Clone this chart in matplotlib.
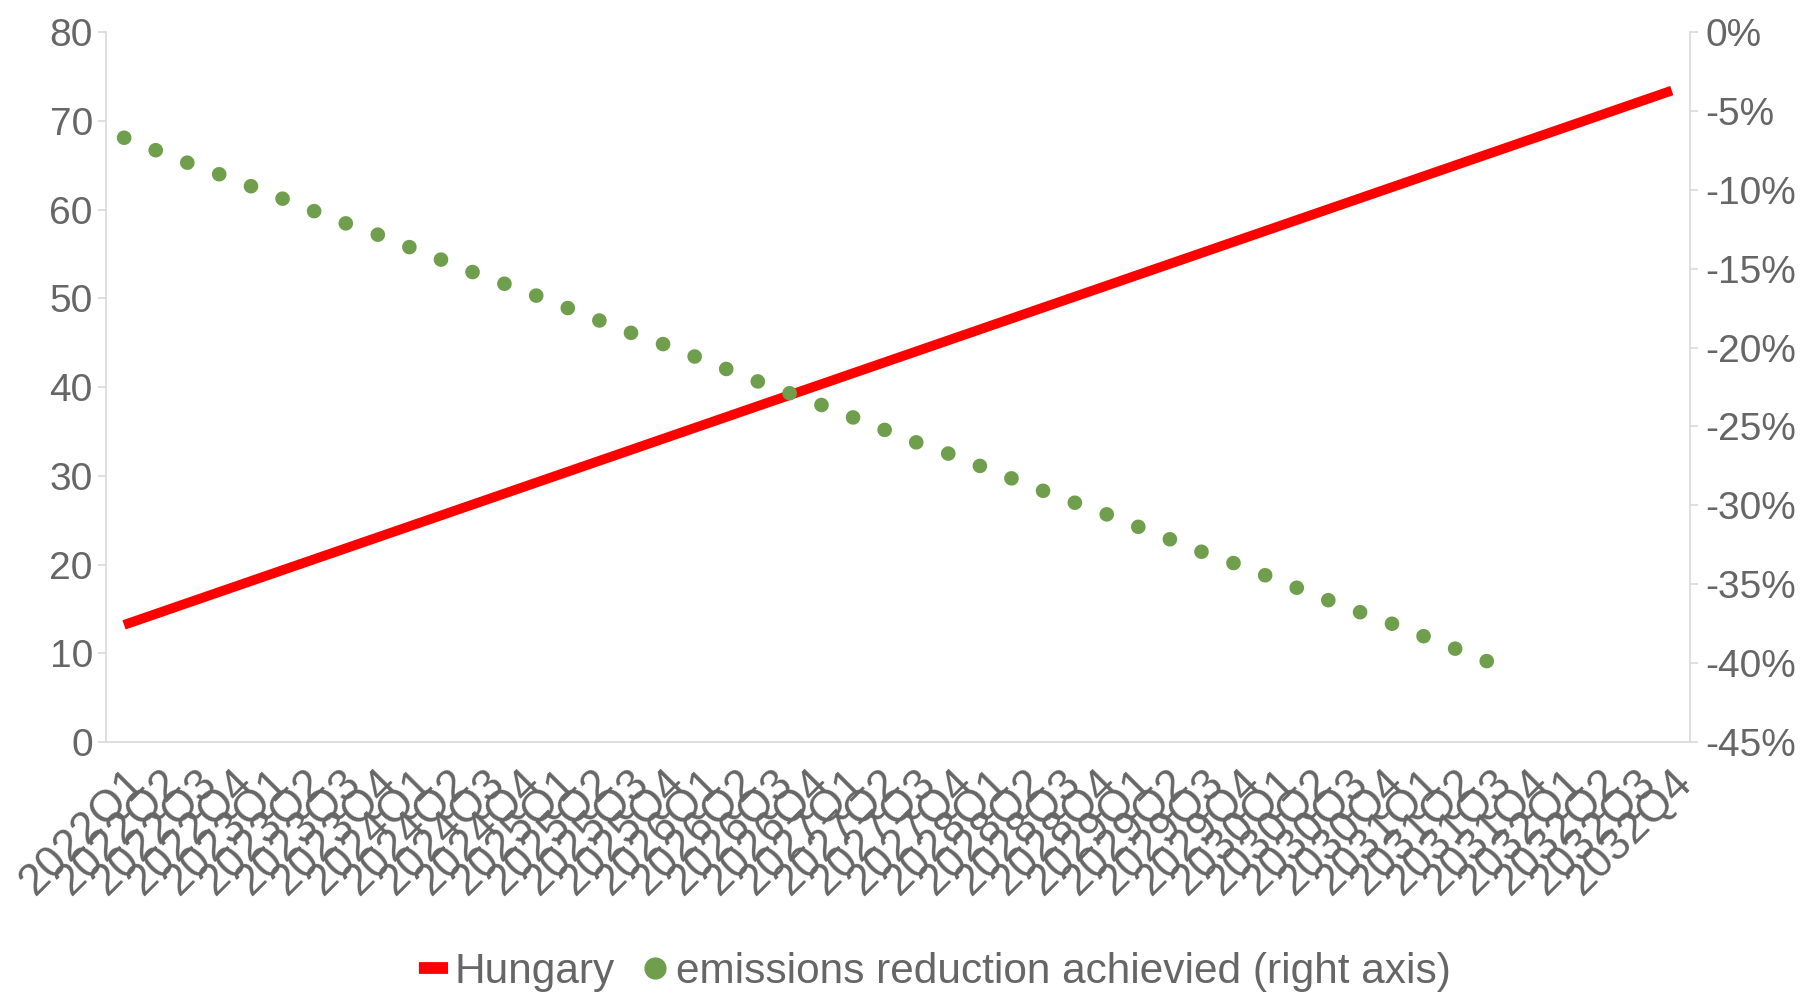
import numpy as np
import matplotlib
matplotlib.use('Agg')
import matplotlib.pyplot as plt
from matplotlib.lines import Line2D
from matplotlib.ticker import FuncFormatter

plt.rcParams['font.family'] = ['Liberation Sans', 'DejaVu Sans']
plt.rcParams['axes.unicode_minus'] = False

# Quarters 2022Q1 .. 2032Q4
quarters = [f'{y}Q{q}' for y in range(2022, 2033) for q in range(1, 5)]

# Left axis series
hungary = [13.2, 14.6, 16.0, 17.4, 18.8, 20.2, 21.6, 23.0, 24.4, 25.8, 27.2,
           28.6, 30.0, 31.4, 32.8, 34.2, 35.6, 37.0, 38.4, 39.8, 41.2, 42.6,
           44.0, 45.4, 46.8, 48.2, 49.6, 51.0, 52.4, 53.8, 55.2, 56.6, 58.0,
           59.4, 60.8, 62.2, 63.6, 65.0, 66.4, 67.8, 69.2, 70.6, 72.0, 73.4]

# Right axis series (percent), runs to 2031Q3
reduction = [-6.7, -7.6, -8.5, -9.3, -10.2, -11.1, -12.0, -12.8, -13.7, -14.6,
             -15.5, -16.3, -17.2, -18.1, -19.0, -19.8, -20.7, -21.6, -22.5,
             -23.3, -24.2, -25.1, -26.0, -26.8, -27.7, -28.6, -29.5, -30.3,
             -31.2, -32.1, -33.0, -33.8, -34.7, -35.6, -36.5, -37.3, -38.2,
             -39.1, -40.0]

RED = '#ff0000'
GREEN = '#6f9f4c'
TEXT = '#666666'
GRID = '#d9d9d9'
FS = 28

fig = plt.figure(figsize=(18.1, 9.94), dpi=100)
ax = fig.add_axes([0.0586, 0.2535, 0.875, 0.7143])
ax2 = ax.twinx()

x = np.arange(len(quarters))
ax.plot(x, hungary, color=RED, lw=7, solid_capstyle='butt', zorder=3)
# round-dot line: near-zero dashes with round caps
ax2.plot(x[:len(reduction)], reduction, color=GREEN, lw=10.5,
         linestyle=(0, (0.01, 2.318)), dash_capstyle='round', zorder=2)

ax.set_xlim(-0.5, len(quarters) - 0.5)
ax.set_ylim(0, 80)
ax.set_yticks(range(0, 81, 10))
ax2.set_ylim(-45, 0)
ax2.set_yticks(range(-45, 1, 5))
ax2.yaxis.set_major_formatter(FuncFormatter(lambda v, p: f'{v:.0f}%'))

ax.set_xticks(x)
ax.set_xticklabels(quarters, rotation=45, ha='right', va='top',
                   rotation_mode='anchor')

for a in (ax, ax2):
    for s in a.spines.values():
        s.set_visible(False)
ax.spines['left'].set_visible(True)
ax.spines['bottom'].set_visible(True)
ax2.spines['right'].set_visible(True)
for s in (ax.spines['left'], ax.spines['bottom'], ax2.spines['right']):
    s.set_color(GRID)
    s.set_linewidth(1.2)

ax.tick_params(axis='y', length=6, width=1.2, color=GRID, pad=3.5,
               labelsize=FS, labelcolor=TEXT)
ax.tick_params(axis='x', length=0, pad=14, labelsize=32, labelcolor=TEXT)
ax2.tick_params(axis='y', length=6, width=1.2, color=GRID, pad=5,
                labelsize=FS, labelcolor=TEXT)

handles = [Line2D([], [], color=RED, lw=8.5, solid_capstyle='butt'),
           Line2D([], [], color=GREEN, lw=0, marker='o', markersize=15)]
labels = ['Hungary', 'emissions reduction achievied (right axis)']
fig.legend(handles, labels, loc='center', bbox_to_anchor=(0.5166, 0.022),
           ncol=2, frameon=False, fontsize=30.5, labelcolor=TEXT,
           handlelength=0.7, handletextpad=0.15, columnspacing=0.6,
           borderaxespad=0, borderpad=0)

fig.savefig('out.png', dpi=100, facecolor='white')
